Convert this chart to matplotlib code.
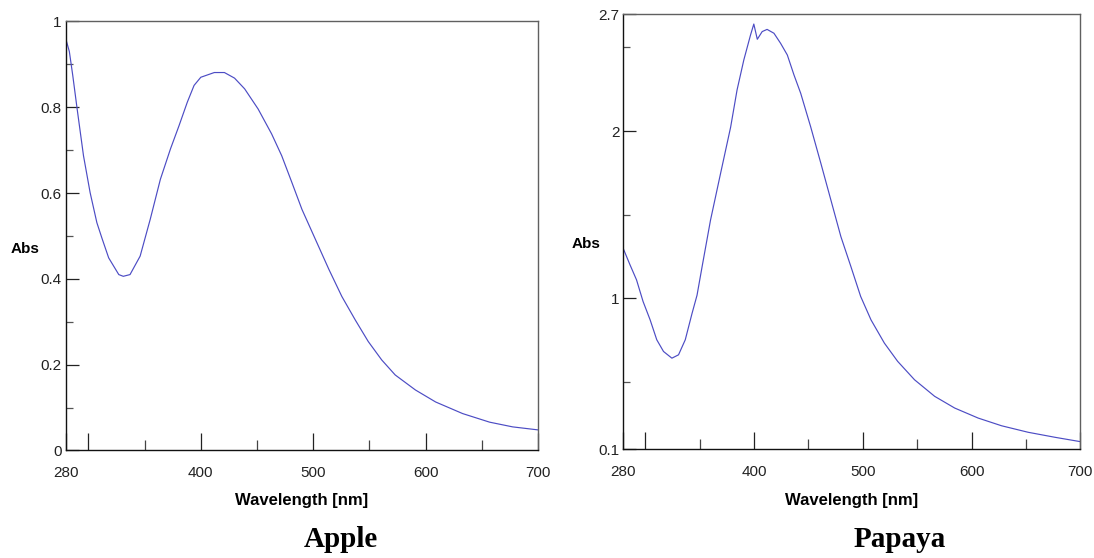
import matplotlib.pyplot as plt
from matplotlib.ticker import FixedLocator

# Apple spectrum (nm, Abs)
apple_nm = [280, 283, 286, 290, 295.6, 301.5, 307.5, 312, 318, 327, 331, 337, 346,
            355, 364, 373, 380.6, 388, 394, 400, 412, 421, 430, 439, 451, 463,
            472, 481, 490, 502, 514, 525.5, 537.5, 549, 561, 573, 591, 609, 633,
            657, 677.5, 700]
apple_abs = [0.958, 0.93, 0.875, 0.795, 0.687, 0.601, 0.531, 0.495, 0.449, 0.41,
             0.406, 0.41, 0.453, 0.539, 0.632, 0.703, 0.757, 0.812, 0.851, 0.870,
             0.881, 0.881, 0.868, 0.843, 0.796, 0.738, 0.687, 0.625, 0.562, 0.492,
             0.422, 0.359, 0.304, 0.254, 0.211, 0.176, 0.141, 0.113, 0.086, 0.066,
             0.055, 0.048]

# Papaya spectrum (nm, Abs)
papaya_nm = [280, 286, 292, 298, 304.5, 310.6, 316.8, 324.5, 330.6, 336.8, 343,
             347.6, 352.3, 360, 369.2, 378.5, 384.4, 390.6, 396.8, 399.8, 403,
             407.5, 412, 418.3, 424.4, 430.6, 436.7, 442.9, 452, 461.4, 470.6,
             479.8, 489, 498, 507.5, 519.8, 532, 547.5, 566, 584.4, 606, 627.5,
             652, 676.7, 700]
papaya_abs = [1.295, 1.201, 1.111, 0.982, 0.872, 0.753, 0.683, 0.643, 0.663, 0.753,
              0.910, 1.019, 1.191, 1.468, 1.746, 2.024, 2.246, 2.425, 2.575, 2.640,
              2.549, 2.595, 2.608, 2.585, 2.525, 2.455, 2.336, 2.226, 2.027, 1.808,
              1.589, 1.370, 1.191, 1.012, 0.872, 0.733, 0.624, 0.514, 0.415, 0.345,
              0.285, 0.239, 0.200, 0.170, 0.144]

x_ticks = [280, 300, 400, 500, 600, 700]
x_labels = ["280", "", "400", "500", "600", "700"]
x_minor = [350, 450, 550, 650]

apple_yticks = [0, 0.2, 0.4, 0.6, 0.8, 1]
apple_ylabels = ["0", "0.2", "0.4", "0.6", "0.8", "1"]
apple_yminor = [0.1, 0.3, 0.5, 0.7, 0.9]

papaya_yticks = [0.1, 1, 2, 2.7]
papaya_ylabels = ["0.1", "1", "2", "2.7"]
papaya_yminor = [0.5, 1.5, 2.5]

LINE = "#4c4cc4"
FONT = "Liberation Sans"


def style_axes(ax, ylim, yticks, ylabels, yminor, abs_pos, xlab_y):
    ax.set_xlim(280, 700)
    ax.set_ylim(*ylim)
    ax.xaxis.set_major_locator(FixedLocator(x_ticks))
    ax.set_xticklabels(x_labels, fontsize=11, family=FONT)
    ax.xaxis.set_minor_locator(FixedLocator(x_minor))
    ax.yaxis.set_major_locator(FixedLocator(yticks))
    ax.set_yticklabels(ylabels, fontsize=11, family=FONT)
    ax.yaxis.set_minor_locator(FixedLocator(yminor))
    ax.tick_params(axis="x", which="major", direction="in", length=12, width=0.9,
                   pad=11.5, colors="#222222")
    ax.tick_params(axis="x", which="minor", direction="in", length=7, width=0.9,
                   colors="#444444")
    ax.tick_params(axis="y", which="major", direction="in", length=9, width=0.9,
                   pad=3, colors="#222222")
    ax.tick_params(axis="y", which="minor", direction="in", length=5, width=0.9,
                   colors="#555555")
    for side in ["left", "bottom"]:
        ax.spines[side].set_color("#111111")
        ax.spines[side].set_linewidth(1.0)
    for side in ["top", "right"]:
        ax.spines[side].set_color("#606060")
        ax.spines[side].set_linewidth(1.0)
    ax.set_xlabel("Wavelength [nm]", fontsize=12, fontweight="bold", family=FONT,
                  va="center")
    ax.xaxis.set_label_coords(0.5, xlab_y)
    ax.set_ylabel("Abs", fontsize=11, fontweight="bold", family=FONT,
                  rotation=0, va="center", ha="center")
    ax.yaxis.set_label_coords(*abs_pos)


fig = plt.figure(figsize=(10.94, 5.58), dpi=100)

ax1 = fig.add_axes([0.0603, 0.1927, 0.4314, 0.7688])
ax1.plot(apple_nm, apple_abs, color=LINE, lw=0.85)
style_axes(ax1, (0, 1), apple_yticks, apple_ylabels, apple_yminor,
           (-0.087, 0.47), -0.117)

ax2 = fig.add_axes([0.5699, 0.1953, 0.4177, 0.7796])
ax2.plot(papaya_nm, papaya_abs, color=LINE, lw=0.85)
style_axes(ax2, (0.1, 2.7), papaya_yticks, papaya_ylabels, papaya_yminor,
           (-0.082, 0.472), -0.119)

fig.text(341 / 1094, 0.0203, "Apple", fontsize=21, fontweight="bold",
         family="Liberation Serif", ha="center")
fig.text(900 / 1094, 0.0203, "Papaya", fontsize=21, fontweight="bold",
         family="Liberation Serif", ha="center")

fig.savefig("out.png", dpi=100)
